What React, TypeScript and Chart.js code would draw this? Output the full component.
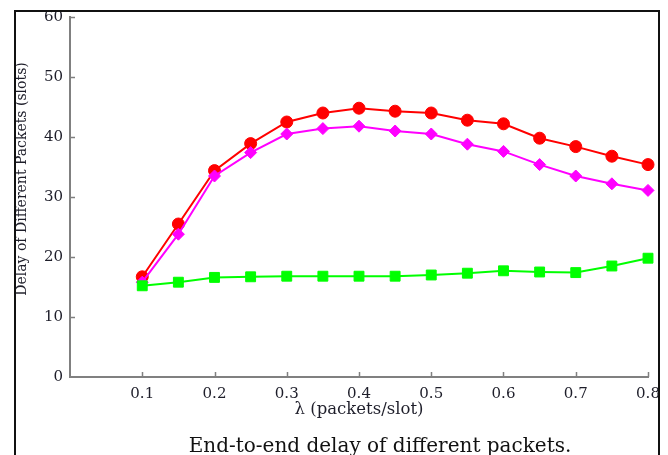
import React, { useEffect, useRef } from "react";
import { Chart, registerables } from "chart.js";

Chart.register(...registerables);

const lambdaValues = [0.1, 0.15, 0.2, 0.25, 0.3, 0.35, 0.4, 0.45, 0.5, 0.55, 0.6, 0.65, 0.7, 0.75, 0.8];
const redDelay = [16.7, 25.5, 34.4, 38.9, 42.5, 44.0, 44.8, 44.3, 44.0, 42.8, 42.2, 39.8, 38.4, 36.8, 35.4];
const magentaDelay = [15.8, 23.8, 33.5, 37.4, 40.5, 41.4, 41.8, 41.0, 40.5, 38.8, 37.6, 35.4, 33.5, 32.2, 31.1];
const greenDelay = [15.2, 15.8, 16.6, 16.7, 16.8, 16.8, 16.8, 16.8, 17.0, 17.3, 17.7, 17.5, 17.4, 18.5, 19.8];
const xTicks = [0.1, 0.2, 0.3, 0.4, 0.5, 0.6, 0.7, 0.8];
const yTicks = [10, 20, 30, 40, 50, 60];

const xTitle = "λ (packets/slot)";
const yTitle = "Delay of Different Packets (slots)";
const caption = "End-to-end delay of different packets.";

const SERIF = '"DejaVu Serif", "Liberation Serif", serif';
const TEXT = "#1e1e2a";
const AXIS = "#808080";

const toPoints = (ys: number[]) => ys.map((y, i) => ({ x: lambdaValues[i], y }));

const decorations = {
  id: "decorations",
  afterDraw(chart: any) {
    const { ctx, scales } = chart;
    const xs = scales.x;
    const ys = scales.y;
    ctx.save();
    ctx.strokeStyle = AXIS;
    ctx.lineWidth = 1.5;
    ctx.beginPath();
    xTicks.forEach((v) => {
      const px = Math.round(xs.getPixelForValue(v)) + 0.5;
      ctx.moveTo(px, ys.bottom);
      ctx.lineTo(px, ys.bottom - 5);
    });
    yTicks.forEach((v) => {
      const py = Math.round(ys.getPixelForValue(v)) + 0.5;
      ctx.moveTo(xs.left, py);
      ctx.lineTo(xs.left + 5, py);
    });
    ctx.stroke();

    // caption below the axes
    ctx.fillStyle = "#111";
    ctx.font = `20px ${SERIF}`;
    ctx.textAlign = "center";
    ctx.textBaseline = "alphabetic";
    ctx.fillText(caption, 380, 452);

    // rotated y-axis title
    ctx.fillStyle = TEXT;
    ctx.font = `14px ${SERIF}`;
    ctx.textAlign = "center";
    ctx.textBaseline = "middle";
    ctx.translate(22, ys.getPixelForValue(33));
    ctx.rotate(-Math.PI / 2);
    ctx.fillText(yTitle, 0, 0);
    ctx.restore();
  },
};

export default function App() {
  const canvasRef = useRef<HTMLCanvasElement | null>(null);

  useEffect(() => {
    document.body.style.margin = "0";
    const canvas = canvasRef.current;
    if (!canvas) return;
    const chart = new Chart(canvas, {
      type: "line",
      data: {
        datasets: [
          {
            label: "red",
            data: toPoints(redDelay),
            borderColor: "#ff0000",
            backgroundColor: "#ff0000",
            borderWidth: 2,
            pointStyle: "circle",
            pointRadius: 6,
            pointBorderWidth: 1,
            clip: false,
            order: 3,
          },
          {
            label: "magenta",
            data: toPoints(magentaDelay),
            borderColor: "#ff00ff",
            backgroundColor: "#ff00ff",
            borderWidth: 2,
            pointStyle: "rectRot",
            pointRadius: 6,
            pointBorderWidth: 1,
            clip: false,
            order: 2,
          },
          {
            label: "green",
            data: toPoints(greenDelay),
            borderColor: "#00ff00",
            backgroundColor: "#00ff00",
            borderWidth: 2,
            pointStyle: "rect",
            pointRadius: 7,
            pointBorderWidth: 1,
            clip: false,
            order: 1,
          },
        ],
      },
      options: {
        responsive: false,
        animation: false,
        layout: { padding: { left: 0, right: 20, top: 17, bottom: 0 } },
        plugins: {
          legend: { display: false },
          tooltip: { enabled: false },
          title: { display: false },
        },
        scales: {
          x: {
            type: "linear",
            min: 0,
            max: 0.8,
            afterFit: (s: any) => {
              s.height = 78;
            },
            grid: { display: false, drawTicks: false },
            border: { display: true, color: AXIS, width: 2 },
            ticks: {
              stepSize: 0.1,
              padding: 8,
              color: TEXT,
              font: { family: SERIF, size: 15 },
              maxRotation: 0,
              autoSkip: false,
              callback: (v: any) => (Math.abs(Number(v)) < 1e-9 ? "" : Number(v).toFixed(1)),
            },
            title: {
              display: true,
              text: xTitle,
              color: TEXT,
              font: { family: SERIF, size: 16.5 },
              padding: { top: 0, bottom: 35 },
            },
          },
          y: {
            type: "linear",
            min: 0,
            max: 60,
            afterFit: (s: any) => {
              s.width = 70;
            },
            grid: { display: false, drawTicks: false },
            border: { display: true, color: AXIS, width: 2 },
            ticks: {
              stepSize: 10,
              padding: 7,
              color: TEXT,
              font: { family: SERIF, size: 15 },
            },
          },
        },
      },
      plugins: [decorations],
    });
    return () => chart.destroy();
  }, []);

  return (
    <div style={{ position: "fixed", left: 0, top: 0, width: 668, height: 455, background: "#fff", overflow: "hidden" }}>
      <canvas ref={canvasRef} width={668} height={455} style={{ display: "block", width: 668, height: 455 }} />
      <div
        style={{
          position: "absolute",
          left: 14,
          top: 10,
          width: 646,
          height: 460,
          boxSizing: "border-box",
          borderLeft: "2px solid #111",
          borderTop: "2px solid #111",
          borderRight: "2px solid #111",
          pointerEvents: "none",
        }}
      />
    </div>
  );
}
